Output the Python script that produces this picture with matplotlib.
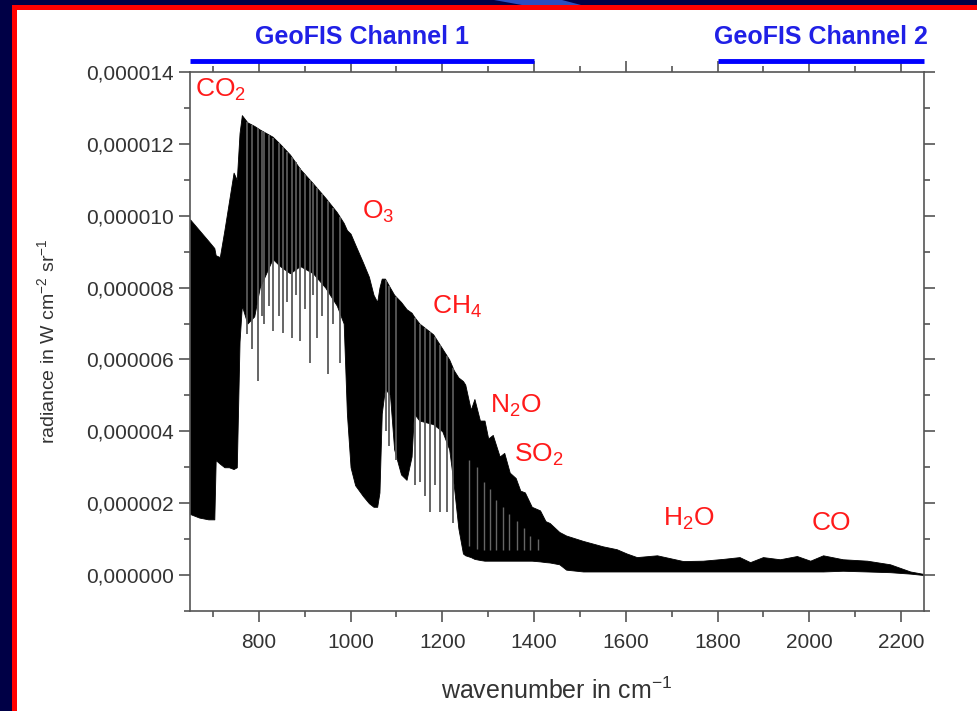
import numpy as np
import matplotlib
matplotlib.use('Agg')
import matplotlib.pyplot as plt
from matplotlib.patches import Rectangle, Polygon
from matplotlib.ticker import MultipleLocator, FuncFormatter

plt.rcParams['font.family'] = ['Liberation Sans', 'DejaVu Sans']
plt.rcParams['mathtext.fontset'] = 'custom'
plt.rcParams['mathtext.rm'] = 'Liberation Sans'
plt.rcParams['mathtext.it'] = 'Liberation Sans:italic'
plt.rcParams['mathtext.bf'] = 'Liberation Sans:bold'

# --- spectrum envelope (radiance in 1e-6 W cm-2 sr-1) ---
wn_env = [650, 670, 690, 703, 706, 715, 725, 735, 745, 752, 758, 763, 775, 790, 802,
          830, 846, 868, 890, 918, 945, 970, 985, 992, 1000, 1010, 1027, 1040, 1050,
          1058, 1063, 1068, 1075, 1086, 1095, 1110, 1122, 1133, 1138, 1150, 1180, 1200,
          1215, 1225, 1235, 1245, 1250, 1262, 1270, 1282, 1292, 1300, 1310, 1325, 1335,
          1347, 1360, 1370, 1380, 1395, 1413, 1425, 1434, 1455,
          1470, 1507, 1550, 1580, 1602, 1624, 1668, 1725, 1768, 1812, 1848, 1871, 1899,
          1936, 1973, 2002, 2030, 2073, 2126, 2176, 2220, 2250]
rad_top = [9.9, 9.6, 9.3, 9.1, 8.9, 8.85, 9.6, 10.4, 11.2, 11.0, 12.3, 12.8, 12.6, 12.5, 12.4,
           12.2, 12.0, 11.7, 11.3, 10.9, 10.5, 10.1, 9.8, 9.6, 9.5, 9.2, 8.7, 8.3, 7.8,
           7.6, 8.0, 8.25, 8.25, 8.0, 7.8, 7.6, 7.4, 7.3, 7.2, 7.0, 6.7, 6.3,
           6.0, 5.7, 5.5, 5.4, 5.3, 4.6, 4.9, 4.3, 4.3, 3.8, 3.9, 3.3, 3.4,
           2.85, 2.7, 2.35, 2.3, 1.9, 1.8, 1.5, 1.45, 1.2,
           1.1, 0.95, 0.8, 0.72, 0.6, 0.5, 0.55, 0.39, 0.4, 0.45, 0.5, 0.36, 0.5,
           0.44, 0.53, 0.4, 0.55, 0.44, 0.4, 0.3, 0.1, 0.03]
rad_bot = [1.7, 1.6, 1.55, 1.55, 3.2, 3.1, 3.0, 3.0, 2.95, 3.0, 6.5, 7.5, 7.0, 7.2, 8.0,
           8.8, 8.6, 8.4, 8.6, 8.4, 8.0, 7.5, 7.0, 4.5, 3.0, 2.5, 2.2, 2.0, 1.9,
           1.9, 2.3, 4.5, 5.2, 5.0, 3.5, 2.8, 2.65, 3.3, 4.5, 4.3, 4.2, 4.0,
           3.5, 2.5, 1.3, 0.6, 0.55, 0.5, 0.45, 0.42, 0.4, 0.4, 0.4, 0.4, 0.4,
           0.4, 0.4, 0.4, 0.4, 0.4, 0.38, 0.36, 0.35, 0.3,
           0.15, 0.1, 0.1, 0.1, 0.1, 0.1, 0.1, 0.1, 0.1, 0.1, 0.1, 0.1, 0.1,
           0.1, 0.1, 0.1, 0.1, 0.12, 0.1, 0.08, 0.04, 0.0]

# individual absorption lines: position and line-core radiance
line_wn = [774, 785, 798, 806, 812, 822, 832, 843, 853, 862, 872, 880, 889, 900,
           911, 918, 926, 938, 950, 962, 977,
           1077, 1084, 1100, 1140, 1151, 1162, 1173, 1184, 1195, 1210, 1223]
line_min = [6.7, 6.3, 5.4, 7.2, 7.0, 7.5, 6.8, 7.2, 6.75, 7.6, 6.6, 7.8, 6.5, 7.4,
            5.9, 7.8, 6.6, 7.2, 5.6, 7.0, 5.9,
            4.0, 3.6, 3.2, 2.5, 2.6, 2.2, 1.75, 2.5, 1.75, 1.75, 1.45]

# grey streaks inside the dense N2O / SO2 band: position and upper end
streak_wn = [1258, 1275, 1290, 1305, 1318, 1332, 1345, 1362, 1378, 1392, 1408]
streak_top = [3.2, 3.0, 2.6, 2.4, 2.1, 1.9, 1.7, 1.5, 1.3, 1.1, 1.0]

gases = ['CO$_2$', 'O$_3$', 'CH$_4$', 'N$_2$O', 'SO$_2$', 'H$_2$O', 'CO']
gas_wn = [660, 1025, 1177, 1304, 1356, 1681, 2006]
gas_rad = [13.5, 10.1, 7.45, 4.7, 3.35, 1.55, 1.45]

channels = ['GeoFIS Channel 1', 'GeoFIS Channel 2']
channel_range = [(650, 1400), (1800, 2250)]

scale = 1e-6
wn_env = np.array(wn_env)
top = np.array(rad_top) * scale
bot = np.array(rad_bot) * scale

W, H = 978, 711
fig = plt.figure(figsize=(W / 100, H / 100), dpi=100)
fig.patch.set_facecolor('#000046')

# slide frame: white panel, red edge, blue wedge
fig.add_artist(Rectangle((17 / W, 0), 1 - 17 / W, 1 - 10 / H, transform=fig.transFigure,
                         facecolor='white', edgecolor='none', zorder=-3))
fig.add_artist(Rectangle((12 / W, 1 - 10 / H), 1 - 12 / W, 5 / H, transform=fig.transFigure,
                         facecolor='#ff0000', edgecolor='none', zorder=-2))
fig.add_artist(Rectangle((12 / W, 0), 5 / W, 1 - 5 / H, transform=fig.transFigure,
                         facecolor='#ff0000', edgecolor='none', zorder=-2))
wedge = [(494 / W, 1), (562 / W, 1), (581 / W, 1 - 5 / H), (522 / W, 1 - 5 / H)]
fig.add_artist(Polygon(wedge, closed=True, transform=fig.transFigure,
                       facecolor='#2c4fc0', edgecolor='none', zorder=-2))

ax = fig.add_axes([190 / W, 1 - 611 / H, (924 - 190) / W, (611 - 72) / H])
ax.set_facecolor('white')

ax.fill_between(wn_env, bot, top, color='black', lw=0.6, edgecolor='black')
for w, m in zip(line_wn, line_min):
    y_top = np.interp(w, wn_env, top)
    ax.vlines(w, m * scale, y_top, color='0.35', lw=1.3)
for w, t in zip(streak_wn, streak_top):
    ax.vlines(w, np.interp(w, wn_env, bot) + 0.3e-6, t * scale, color='0.4', lw=1.0)

ax.set_xlim(650, 2250)
ax.set_ylim(-1e-6, 14e-6)
ax.xaxis.set_major_locator(MultipleLocator(200))
ax.xaxis.set_minor_locator(MultipleLocator(100))
ax.yaxis.set_major_locator(MultipleLocator(2e-6))
ax.yaxis.set_minor_locator(MultipleLocator(1e-6))
ax.yaxis.set_major_formatter(FuncFormatter(lambda v, p: f'{v:.6f}'.replace('.', ',').replace('-', '')))

for s in ax.spines.values():
    s.set_color('#555555')
    s.set_linewidth(1.2)
ax.tick_params(which='both', direction='out', top=True, right=True, color='#555555',
               labelcolor='#333333', labelsize=15)
ax.tick_params(which='major', length=8, width=1.2)
ax.tick_params(which='minor', length=4, width=1.2)
ax.tick_params(axis='x', pad=8)

ax.set_xlabel('wavenumber in cm$^{-1}$', fontsize=18, color='#333333', labelpad=18)
ax.set_ylabel('radiance in W cm$^{-2}$ sr$^{-1}$', fontsize=14, color='#333333', labelpad=20)

for g, x, y in zip(gases, gas_wn, gas_rad):
    ax.text(x, y * scale, g, color='#ff1a1a', fontsize=19, ha='left', va='center')

for name, (x0, x1) in zip(channels, channel_range):
    ax.plot([x0, x1], [14.3e-6, 14.3e-6], color='#0000ff', lw=3.5,
            solid_capstyle='butt', clip_on=False)
    ax.text((x0 + x1) / 2, 14.97e-6, name, color='#2020e6', fontsize=18,
            fontweight='bold', ha='center', va='center', clip_on=False)

fig.savefig('out.png', dpi=100, facecolor=fig.get_facecolor())
